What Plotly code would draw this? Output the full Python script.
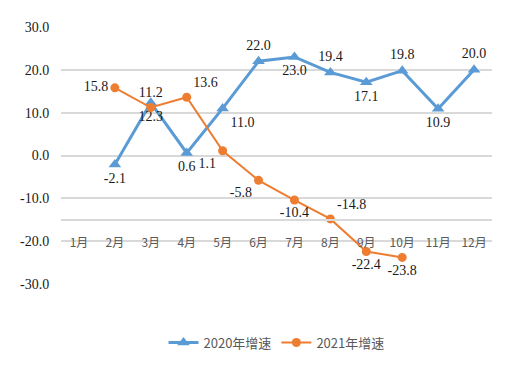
import plotly.graph_objects as go

months = ["1月", "2月", "3月", "4月", "5月", "6月", "7月", "8月", "9月", "10月", "11月", "12月"]
growth_2020 = [None, -2.1, 12.3, 0.6, 11.0, 22.0, 23.0, 19.4, 17.1, 19.8, 10.9, 20.0]
growth_2021 = [None, 15.8, 11.2, 13.6, 1.1, -5.8, -10.4, -14.8, -22.4, -23.8, None, None]
y_ticks = [30, 20, 10, 0, -10, -20, -30]

pos_2020 = ["bottom center", "bottom center", "bottom center", "bottom center", "bottom right",
            "top center", "bottom center", "top center", "bottom center", "top center",
            "bottom center", "top center"]
pos_2021 = ["top center", "middle left", "top center", "top right", "bottom left",
            "bottom left", "bottom center", "top right", "bottom center", "bottom center",
            "top center", "top center"]

def fmt(v):
    return "" if v is None else f"{v:.1f}"

SERIF = "Times New Roman, Liberation Serif, DejaVu Serif, serif"
label_font = dict(family=SERIF, size=14, color="#1a1a1a")

fig = go.Figure()
fig.add_trace(go.Scatter(
    x=months, y=growth_2020, name="2020年增速",
    mode="lines+markers+text",
    line=dict(color="#5B9BD5", width=3),
    marker=dict(symbol="triangle-up", size=11, color="#5B9BD5"),
    text=[fmt(v) for v in growth_2020], textposition=pos_2020,
    textfont=label_font, cliponaxis=False,
))
fig.add_trace(go.Scatter(
    x=months, y=growth_2021, name="2021年增速",
    mode="lines+markers+text",
    line=dict(color="#ED7D31", width=2),
    marker=dict(symbol="circle", size=9, color="#ED7D31"),
    text=[fmt(v) for v in growth_2021], textposition=pos_2021,
    textfont=label_font, cliponaxis=False,
))

fig.update_layout(
    width=504, height=370,
    margin=dict(l=52, r=20, t=17, b=94),
    paper_bgcolor="white", plot_bgcolor="white",
    font=dict(family=SERIF),
    showlegend=True,
    legend=dict(orientation="h", x=0.5, xanchor="center", y=-0.228, yanchor="middle",
                font=dict(family="Noto Sans CJK SC", size=13, color="#595959"),
                itemwidth=30),
    xaxis=dict(
        type="category", categoryorder="array", categoryarray=months,
        range=[-0.5, 11.5],
        anchor="free", position=0.25,
        showline=True, linecolor="#d9d9d9", linewidth=2,
        showgrid=False, zeroline=False,
        ticks="outside", ticklen=12, tickcolor="rgba(0,0,0,0)",
        tickfont=dict(family="Noto Sans CJK SC", size=12, color="#595959"),
    ),
    yaxis=dict(
        range=[-30, 30], tickvals=y_ticks, ticktext=[f"{v:.1f}" for v in y_ticks],
        showgrid=True, gridcolor="#d9d9d9", gridwidth=2,
        zeroline=False, showline=False,
        ticks="outside", ticklen=8, tickcolor="rgba(0,0,0,0)",
        tickfont=dict(family=SERIF, size=14, color="#1a1a1a"),
    ),
)

fig.write_html("out.html")
